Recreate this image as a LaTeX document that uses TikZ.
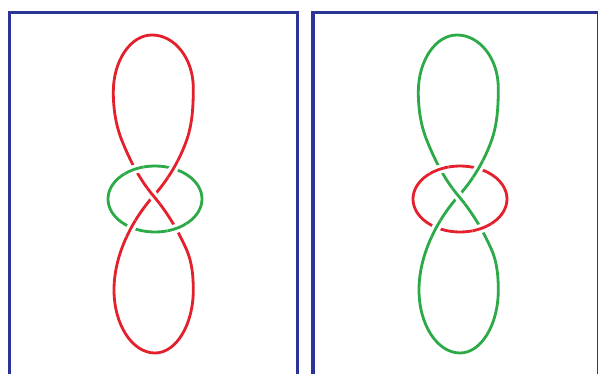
\documentclass[tikz,border=0pt]{standalone}
\definecolor{kred}{RGB}{228,32,44}
\definecolor{kgreen}{RGB}{44,170,72}
\definecolor{kblue}{RGB}{44,52,150}
\tikzset{
  strand/.style={draw=#1, line width=2.8pt, line cap=round, line join=round},
  gapline/.style={draw=white, line width=9pt},
  boxline/.style={draw=kblue, line width=3.6pt}
}
\newcommand\knotpath{(186.7,250) .. controls (178.3,230.8) and (167.1,212) .. (153.5,196) .. controls (139.6,179.6) and (129.7,160) .. (121.7,140) .. controls (115.7,125) and (113.3,108.2) .. (113.3,92) .. controls (113.3,60.5) and (130.6,35) .. (152,35) .. controls (174.8,35) and (193.3,58.7) .. (193.3,88) .. controls (193.3,105.5) and (192.5,123.5) .. (186.7,140) .. controls (179.5,160.5) and (168,179.8) .. (153.5,196) .. controls (130.9,221.4) and (114,256) .. (114,290) .. controls (114,324.8) and (132.4,353) .. (155,353) .. controls (176.1,353) and (193.3,324.8) .. (193.3,290) .. controls (193.3,276.5) and (192.1,262.4) .. (186.7,250) -- cycle}
\newcommand\overpiece{(186.7,250) .. controls (178.3,230.8) and (167.1,212) .. (153.5,196) .. controls (139.6,179.6) and (129.7,160) .. (121.7,140)}
\newcommand\ringpath{(155,199) ellipse [x radius=47pt, y radius=33pt]}
\newcommand\overat[3]{\begin{scope}\clip (#1) circle[radius=10pt]; \draw[gapline] #3; \draw[strand=#2] #3; \end{scope}}
\newcommand\knotfig[2]{%
  \draw[strand=#1] \knotpath;
  \draw[strand=#2] \ringpath;
  \overat{134,170}{#2}{\ringpath}
  \overat{171,168}{#1}{\knotpath}
  \overat{153.5,196}{#1}{\overpiece}
  \overat{128,227}{#1}{\knotpath}
  \overat{177,228}{#2}{\ringpath}
}
\begin{document}
\begin{tikzpicture}[x=1pt,y=-1pt]
\useasboundingbox (0,0) rectangle (598,373);
\clip (0,0) rectangle (598,373);
\fill[white] (0,0) rectangle (598,373);
\draw[boxline] (9.5,400) |- (297.5,12.5) -- (297.5,400);
\draw[boxline] (313,400) |- (599,12.5) -- (599,400);
\knotfig{kred}{kgreen}
\begin{scope}[xshift=305pt]
\knotfig{kgreen}{kred}
\end{scope}
\end{tikzpicture}
\end{document}
